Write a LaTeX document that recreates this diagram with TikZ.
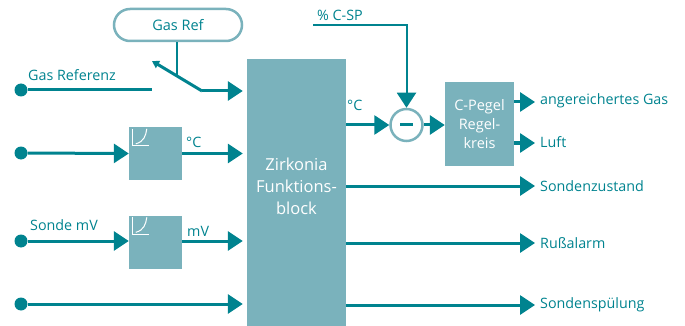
\documentclass[tikz,border=0pt]{standalone}
\usepackage{fontspec}
\setmainfont{Open Sans}
\usetikzlibrary{arrows.meta,calc}
\definecolor{tealdark}{RGB}{0,131,143}
\definecolor{teallight}{RGB}{122,178,188}
\begin{document}
\begin{tikzpicture}[x=1pt,y=-1pt,
  conn/.style={draw=tealdark,line width=3pt,-{Triangle[length=15pt,width=19pt]}},
  plainline/.style={draw=tealdark,line width=2pt},
  dotmark/.style={circle,fill=tealdark,inner sep=0pt,minimum size=13pt},
  blockbox/.style={fill=teallight,inner sep=0pt,text=white},
  lbl/.style={text=tealdark,font=\fontsize{14.3}{16}\selectfont,inner sep=0pt},
  blocktext/.style={text=white,align=center,inner sep=0pt},
  iconline/.style={draw=white,line width=1pt}
]
\useasboundingbox (0,0) rectangle (685,326);
% Big block
\node[blockbox,minimum width=99pt,minimum height=267pt] (zfb) at (296.5,192.5) {};
\node[blocktext,font=\fontsize{16.5}{22}\selectfont] (zfbtxt) at (296.5,186) {Zirkonia\\Funktions-\\block};
% small boxes
\node[blockbox,minimum width=53pt,minimum height=53pt] (b1) at (155.5,153.5) {};
\node[blockbox,minimum width=53pt,minimum height=53pt] (b2) at (155.5,242) {};
\foreach \b in {b1,b2}{
  \draw[iconline] ($(\b.north west)+(4,2)$) -- ($(\b.north west)+(4,19)$) -- ($(\b.north west)+(20,19)$);
  \draw[iconline] ($(\b.north west)+(7,17)$) .. controls ($(\b.north west)+(15,15)$) and ($(\b.north west)+(17,9)$) .. ($(\b.north west)+(18,2)$);
}
% C-Pegel box
\node[blockbox,minimum width=69pt,minimum height=84pt] (cp) at (479.5,124) {};
\node[blocktext,font=\fontsize{14.5}{19}\selectfont] (cptxt) at (479.5,124) {C-Pegel\\Regel-\\kreis};
% Gas Ref pill
\node[draw=teallight,line width=2.5pt,fill=white,rounded corners=16pt,minimum width=128pt,minimum height=32pt,inner sep=0pt,text=tealdark,font=\fontsize{14.5}{16}\selectfont] (gasref) at (178,25) {Gas Ref};
% Subtractor circle
\node[circle,draw=teallight,line width=2.5pt,fill=white,minimum size=32pt,inner sep=0pt] (sub) at (406.5,125) {};
\draw[tealdark,line width=3pt] ($(sub.center)+(-6.5,0)$) -- ($(sub.center)+(6.5,0)$);
% Input dots
\node[dotmark] (d1) at (21,90) {};
\node[dotmark] (d2) at (21,153) {};
\node[dotmark] (d3) at (21,241) {};
\node[dotmark] (d4) at (21,304) {};
% switch
\coordinate (swa) at (152,90);
\coordinate (swb) at (152,61);
\coordinate (swc) at (202,91);
\coordinate (swm) at (177,76);
\draw[plainline,line width=3pt] (d1) -- (swa);
\draw[draw=tealdark,line width=3pt,{Triangle[length=7pt,width=8pt]}-] (swb) -- (swc);
\draw[conn,shorten >=4pt] (swc) -- (zfb.west |- swc);
\draw[plainline] (gasref.south -| swm) -- (swm);
% row 2
\draw[conn] (d2) -- (b1.west);
\draw[conn,shorten >=4pt] (b1.east) -- (zfb.west |- b1.east);
% row 3
\draw[conn] (d3) -- (b2.west |- d3);
\draw[conn,shorten >=4pt] (b2.east |- d3) -- (zfb.west |- d3);
% row 4
\draw[conn,shorten >=4pt] (d4) -- (zfb.west |- d4);
% setpoint
\coordinate (sp) at (313,25);
\draw[plainline,-{Triangle[length=15pt,width=19pt]}] (sp) -- (sp -| sub) -- (sub.north);
\draw[conn] (zfb.east |- sub) -- (sub.west);
\draw[conn] (sub.east) -- (cp.west |- sub);
% outputs
\coordinate (o1) at (535,102);
\coordinate (o2) at (535,143);
\coordinate (o3) at (535,186);
\coordinate (o4) at (535,243);
\coordinate (o5) at (535,305);
\draw[conn] (cp.east |- o1) -- (o1);
\draw[conn] (cp.east |- o2) -- (o2);
\draw[conn] (zfb.east |- o3) -- (o3);
\draw[conn] (zfb.east |- o4) -- (o4);
\draw[conn] (zfb.east |- o5) -- (o5);
% labels
\node[lbl,anchor=west] (l1) at (540,101) {angereichertes Gas};
\node[lbl,anchor=west] (l2) at (540,142) {Luft};
\node[lbl,anchor=west] (l3) at (540,186) {Sondenzustand};
\node[lbl,anchor=west] (l4) at (540,243) {Rußalarm};
\node[lbl,anchor=west] (l5) at (540,305) {Sondenspülung};
\node[lbl,anchor=west] (lgr) at (28,75) {Gas Referenz};
\node[lbl,anchor=west] (lc1) at (186,142) {°C};
\node[lbl,anchor=west] (lsm) at (30,225) {Sonde mV};
\node[lbl,anchor=west] (lmv) at (187,231) {mV};
\node[lbl,anchor=west] (lc2) at (347,105) {°C};
\node[lbl,anchor=west] (lsp) at (317,15) {\% C-SP};
\end{tikzpicture}
\end{document}
